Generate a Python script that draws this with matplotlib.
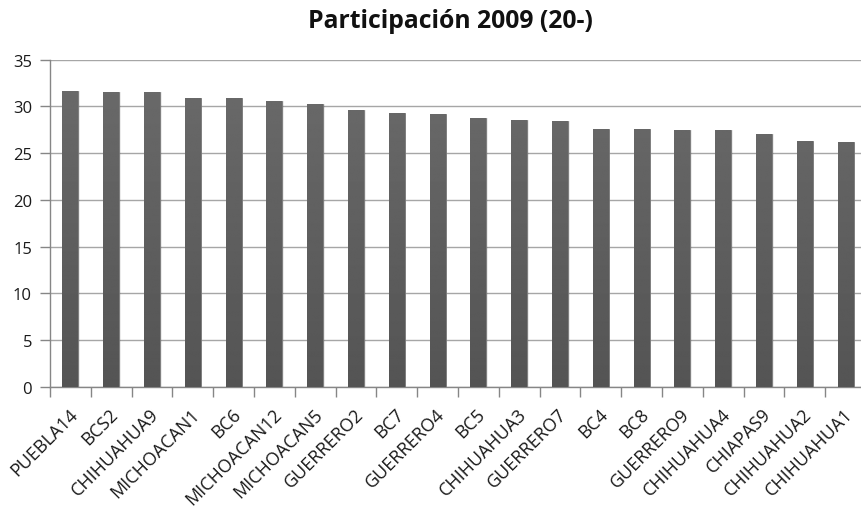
import matplotlib
matplotlib.use("Agg")
import matplotlib.pyplot as plt
import numpy as np

districts = ["PUEBLA14", "BCS2", "CHIHUAHUA9", "MICHOACAN1", "BC6", "MICHOACAN12",
             "MICHOACAN5", "GUERRERO2", "BC7", "GUERRERO4", "BC5", "CHIHUAHUA3",
             "GUERRERO7", "BC4", "BC8", "GUERRERO9", "CHIHUAHUA4", "CHIAPAS9",
             "CHIHUAHUA2", "CHIHUAHUA1"]
participation = [31.66, 31.55, 31.55, 30.9, 30.9, 30.58,
                 30.26, 29.62, 29.3, 29.2, 28.77, 28.55,
                 28.45, 27.58, 27.58, 27.48, 27.48, 27.05,
                 26.3, 26.16]
y_ticks = [0, 5, 10, 15, 20, 25, 30, 35]
title = "Participación 2009 (20-)"

plt.rcParams['font.family'] = ['Open Sans', 'DejaVu Sans']

fig = plt.figure(figsize=(8.61, 5.10), dpi=100)
ax = fig.add_axes([50 / 861, 122.3 / 510, 816 / 861, 327 / 510])

x = np.arange(len(districts))
ymax = 35
# soft drop shadow behind each bar
ax.bar(x + 0.035, participation, width=0.40, color='#000000', alpha=0.08,
       zorder=2, linewidth=0)
bars = ax.bar(x, participation, width=0.39, color='#5e5e5e', edgecolor='#7a7a7a',
              linewidth=0.6, zorder=3)

# vertical shading inside each bar: lighter near the top, darker near the base
grad = np.linspace(0.42, 0.33, 256).reshape(-1, 1)
for b in bars:
    im = ax.imshow(grad, cmap='gray', vmin=0, vmax=1, aspect='auto',
                   extent=[b.get_x(), b.get_x() + b.get_width(), 0, ymax],
                   origin='upper', zorder=3.5, interpolation='bilinear')
    im.set_clip_path(b)

ax.set_xlim(-0.5, len(districts) - 0.5)
ax.set_ylim(0, ymax)
ax.set_yticks(y_ticks)
ax.set_yticklabels([str(v) for v in y_ticks], fontsize=12, color='#1a1a1a')
ax.yaxis.grid(True, color='#a6a6a6', linewidth=1.0, zorder=0)
ax.set_axisbelow(True)

# category boundary ticks on the x axis
ax.set_xticks(np.arange(len(districts) + 1) - 0.5)
ax.set_xticklabels([])
ax.tick_params(axis='x', length=7, width=1, color='#868686', direction='out')
ax.tick_params(axis='y', length=7, width=1, color='#868686', direction='out', pad=6)

for xi, name in zip(x, districts):
    ax.text(xi - 0.05, -1.9, name, rotation=45, ha='right', va='top',
            rotation_mode='anchor', fontsize=13, color='#1a1a1a')

for side in ('top', 'right'):
    ax.spines[side].set_visible(False)
for side in ('left', 'bottom'):
    ax.spines[side].set_color('#868686')
    ax.spines[side].set_linewidth(1.0)

fig.text(450 / 861, 1 - 22 / 510, title, ha='center', va='center',
         fontsize=17.8, fontweight='bold', color='#111111')

fig.savefig("out.png", dpi=100)
